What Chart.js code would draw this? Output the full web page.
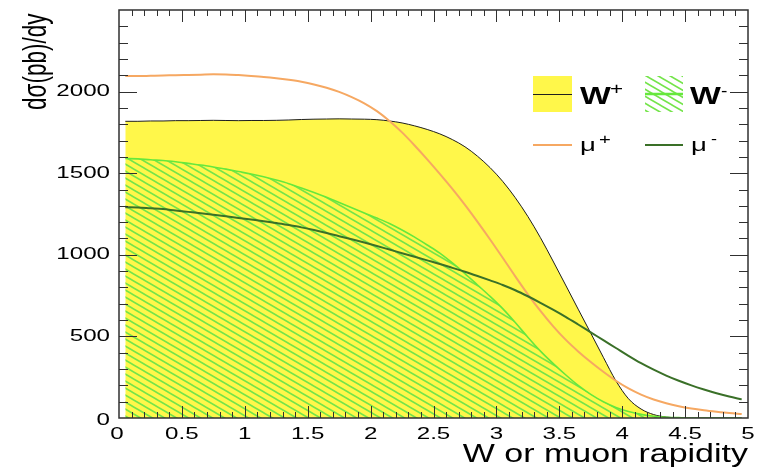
<!DOCTYPE html>
<html>
<head>
<meta charset="utf-8">
<script src="https://cdn.jsdelivr.net/npm/chart.js@4/dist/chart.umd.min.js"></script>
<style>
  html, body { margin: 0; padding: 0; background: #fff; }
  #wrap { width: 757px; height: 467px; }
</style>
</head>
<body>
<div id="wrap"><canvas id="c" width="757" height="467"></canvas></div>
<script>
// Rapidity bin centres
const rapidity = [0.05, 0.15, 0.25, 0.35, 0.45, 0.55, 0.65, 0.75, 0.85, 0.95,
                  1.05, 1.15, 1.25, 1.35, 1.45, 1.55, 1.65, 1.75, 1.85, 1.95,
                  2.05, 2.15, 2.25, 2.35, 2.45, 2.55, 2.65, 2.75, 2.85, 2.95,
                  3.05, 3.15, 3.25, 3.35, 3.45, 3.55, 3.65, 3.75, 3.85, 3.95,
                  4.05, 4.15, 4.25, 4.35, 4.45, 4.55, 4.65, 4.75, 4.85, 4.95];

// dσ/dy in pb
const wPlus = [1818, 1818, 1820, 1820, 1822, 1822, 1823, 1824, 1823, 1822,
               1823, 1823, 1824, 1826, 1829, 1831, 1832, 1833, 1832, 1831,
               1828, 1820, 1808, 1790, 1768, 1741, 1706, 1662, 1604, 1534,
               1450, 1350, 1235, 1105, 962, 815, 667, 520, 372, 228,
               118, 55, 21, 6, 1, 0, 0, 0, 0, 0];

const wMinus = [1590, 1588, 1582, 1578, 1570, 1560, 1550, 1538, 1525, 1510,
                1495, 1478, 1458, 1436, 1410, 1382, 1352, 1320, 1288, 1256,
                1225, 1192, 1152, 1108, 1060, 1010, 950, 885, 815, 745,
                670, 585, 495, 410, 335, 265, 200, 145, 100, 65,
                40, 22, 11, 5, 2, 0, 0, 0, 0, 0];

const muPlus = [2095, 2095, 2097, 2099, 2100, 2102, 2104, 2106, 2105, 2101,
                2096, 2090, 2082, 2072, 2060, 2044, 2024, 1998, 1966, 1928,
                1880, 1820, 1750, 1670, 1585, 1496, 1404, 1306, 1202, 1094,
                982, 868, 758, 656, 563, 480, 408, 343, 283, 228,
                181, 143, 113, 90, 72, 58, 47, 38, 30, 24];

const muMinus = [1292, 1290, 1285, 1280, 1271, 1263, 1255, 1246, 1236, 1226,
                 1216, 1206, 1195, 1182, 1168, 1152, 1134, 1114, 1095, 1075,
                 1054, 1032, 1010, 988, 966, 944, 920, 896, 870, 843,
                 815, 783, 746, 706, 664, 620, 573, 525, 477, 429,
                 381, 336, 296, 260, 228, 200, 175, 152, 132, 114];

// Axis tick labels
const xTickValues = [0, 0.5, 1, 1.5, 2, 2.5, 3, 3.5, 4, 4.5, 5];
const xTickLabels = ['0', '0.5', '1', '1.5', '2', '2.5', '3', '3.5', '4', '4.5', '5'];
const yTickValues = [0, 500, 1000, 1500, 2000];
const yTickLabels = ['0', '500', '1000', '1500', '2000'];

const COL = {
  yellow: '#fff74a',
  wPlusLine: '#1e1e1e',
  hatch: '#74e44a',
  wMinusLine: '#66e83c',
  muPlus: '#f6a862',
  muMinus: '#3a7028',
  frame: '#303030'
};
const FONT = '"Liberation Sans", Arial, Helvetica, sans-serif';

function pairs(ys) { return rapidity.map((x, i) => ({ x: x, y: ys[i] })); }

// Diagonal hatch pattern (lines running down to the right)
function makeHatch(ctx, bg) {
  const W = 12, H = 7;
  const c = document.createElement('canvas');
  c.width = W; c.height = H;
  const g = c.getContext('2d');
  if (bg) { g.fillStyle = bg; g.fillRect(0, 0, W, H); }
  g.strokeStyle = COL.hatch;
  g.lineWidth = 1.6;
  for (let k = -1; k <= 1; k++) {
    g.beginPath();
    g.moveTo(-1, k * H - H / W);
    g.lineTo(W + 1, k * H + H + H / W);
    g.stroke();
  }
  return ctx.createPattern(c, 'repeat');
}

// Horizontally stretched text
function sText(ctx, txt, x, y, font, align, baseline, sx, color) {
  ctx.save();
  ctx.translate(x, y);
  ctx.scale(sx, 1);
  ctx.font = font;
  ctx.textAlign = align;
  ctx.textBaseline = baseline;
  ctx.fillStyle = color || '#000';
  ctx.fillText(txt, 0, 0);
  ctx.restore();
}

const canvas = document.getElementById('c');
const ctx2d = canvas.getContext('2d');
const hatchFill = makeHatch(ctx2d, null);
const hatchLegend = makeHatch(ctx2d, '#ffffff');

// Frame, inward ticks, tick labels, axis titles and legend
const rootStyle = {
  id: 'rootStyle',
  afterDatasetsDraw(chart) {
    const { ctx, chartArea: a, scales: { x, y } } = chart;
    ctx.save();
    ctx.strokeStyle = COL.frame;
    ctx.lineWidth = 1;
    ctx.beginPath();
    for (let i = 1; i < 50; i++) {
      const px = Math.round(x.getPixelForValue(i / 10)) + 0.5;
      const len = (i % 5 === 0) ? 12 : 6;
      ctx.moveTo(px, a.bottom); ctx.lineTo(px, a.bottom - len);
      ctx.moveTo(px, a.top); ctx.lineTo(px, a.top + len);
    }
    for (let i = 1; i < 25; i++) {
      const py = Math.round(y.getPixelForValue(i * 100)) + 0.5;
      const len = (i % 5 === 0) ? 18 : 9;
      ctx.moveTo(a.left, py); ctx.lineTo(a.left + len, py);
      ctx.moveTo(a.right, py); ctx.lineTo(a.right - len, py);
    }
    ctx.stroke();
    ctx.lineWidth = 1.5;
    ctx.strokeRect(a.left, a.top, a.right - a.left, a.bottom - a.top);
    ctx.restore();
  },
  afterDraw(chart) {
    const { ctx, scales: { x, y } } = chart;
    const tickFont = '17px ' + FONT;
    xTickValues.forEach((v, i) => {
      sText(ctx, xTickLabels[i], x.getPixelForValue(v) - (i === 0 ? 2 : 0), 439, tickFont, 'center', 'alphabetic', 1.42);
    });
    yTickValues.forEach((v, i) => {
      sText(ctx, yTickLabels[i], 110, y.getPixelForValue(v) + (i === 0 ? 2 : 0), tickFont, 'right', 'middle', 1.42);
    });

    // x title
    sText(ctx, 'W or muon rapidity', 748, 462, '25px ' + FONT, 'right', 'alphabetic', 1.36);

    // y title, rotated, glyph height stretched
    ctx.save();
    ctx.translate(46, 110);
    ctx.scale(1.45, 1);
    ctx.rotate(-Math.PI / 2);
    ctx.font = '22.5px ' + FONT;
    ctx.textAlign = 'left';
    ctx.textBaseline = 'alphabetic';
    ctx.fillStyle = '#000';
    ctx.fillText('dσ(pb)/dy', 0, 0);
    ctx.restore();

    // legend
    ctx.save();
    ctx.fillStyle = COL.yellow;
    ctx.fillRect(533, 76, 39, 36);
    ctx.strokeStyle = COL.wPlusLine;
    ctx.lineWidth = 1;
    ctx.beginPath(); ctx.moveTo(533, 94.5); ctx.lineTo(572, 94.5); ctx.stroke();

    ctx.fillStyle = hatchLegend;
    ctx.fillRect(645, 76, 38, 36);
    ctx.strokeStyle = COL.wMinusLine;
    ctx.lineWidth = 2.5;
    ctx.beginPath(); ctx.moveTo(645, 94); ctx.lineTo(683, 94); ctx.stroke();

    ctx.strokeStyle = COL.muPlus;
    ctx.lineWidth = 2;
    ctx.beginPath(); ctx.moveTo(533, 145); ctx.lineTo(572, 145); ctx.stroke();
    ctx.strokeStyle = COL.muMinus;
    ctx.beginPath(); ctx.moveTo(645, 145); ctx.lineTo(683, 145); ctx.stroke();
    ctx.restore();

    const bold = 'bold 23px ' + FONT;
    sText(ctx, 'W', 580, 104, bold, 'left', 'alphabetic', 1.42);
    sText(ctx, '+', 610, 94, '16px ' + FONT, 'left', 'alphabetic', 1.4);
    sText(ctx, 'W', 690, 104, bold, 'left', 'alphabetic', 1.42);
    sText(ctx, '-', 721, 96, '16px ' + FONT, 'left', 'alphabetic', 1.2);
    sText(ctx, 'μ', 580, 151, '19px ' + FONT, 'left', 'alphabetic', 1.45);
    sText(ctx, '+', 599, 144, '15px ' + FONT, 'left', 'alphabetic', 1.35);
    sText(ctx, 'μ', 691, 151, '19px ' + FONT, 'left', 'alphabetic', 1.45);
    sText(ctx, '-', 711, 144, '15px ' + FONT, 'left', 'alphabetic', 1.2);
  }
};

new Chart(canvas, {
  type: 'line',
  data: {
    datasets: [
      {
        label: 'W+',
        data: pairs(wPlus),
        borderColor: COL.wPlusLine,
        borderWidth: 1,
        backgroundColor: COL.yellow,
        fill: 'origin',
        order: 4
      },
      {
        label: 'W-',
        data: pairs(wMinus),
        borderColor: COL.wMinusLine,
        borderWidth: 1.6,
        backgroundColor: hatchFill,
        fill: 'origin',
        order: 3
      },
      {
        label: 'μ+',
        data: pairs(muPlus),
        borderColor: COL.muPlus,
        borderWidth: 2,
        fill: false,
        order: 2
      },
      {
        label: 'μ-',
        data: pairs(muMinus),
        borderColor: COL.muMinus,
        borderWidth: 2,
        fill: false,
        order: 1
      }
    ]
  },
  options: {
    responsive: false,
    animation: false,
    devicePixelRatio: 1,
    layout: { padding: { left: 119, right: 9, top: 10, bottom: 49 } },
    elements: {
      point: { radius: 0, hoverRadius: 0 },
      line: { cubicInterpolationMode: 'monotone' }
    },
    plugins: { legend: { display: false }, tooltip: { enabled: false } },
    scales: {
      x: { type: 'linear', min: 0, max: 5, display: false },
      y: { type: 'linear', min: 0, max: 2500, display: false }
    }
  },
  plugins: [rootStyle]
});
</script>
</body>
</html>
